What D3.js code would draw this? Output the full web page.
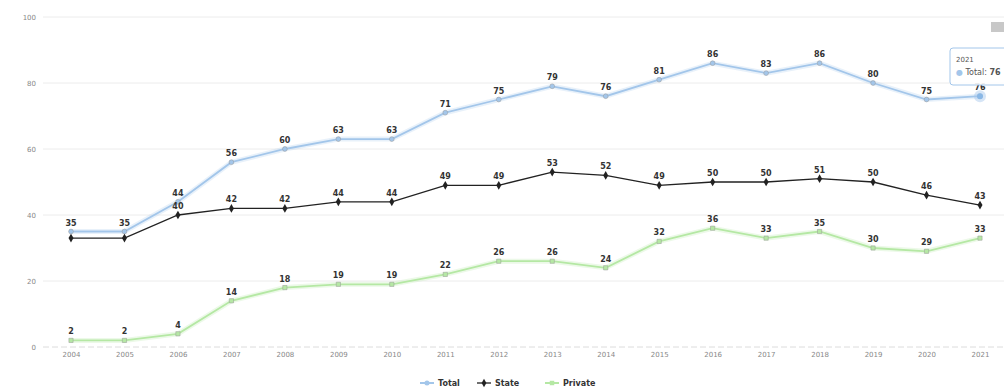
<!DOCTYPE html>
<html><head><meta charset="utf-8">
<script src="https://cdn.jsdelivr.net/npm/d3@7"></script>
<style>
html,body{margin:0;padding:0;background:#fff;overflow:hidden}
svg{display:block;font-family:"DejaVu Sans",Verdana,sans-serif}
</style></head>
<body><svg id="c" width="1004" height="390"></svg>
<script>
const years = ["2004","2005","2006","2007","2008","2009","2010","2011","2012","2013","2014","2015","2016","2017","2018","2019","2020","2021"];
const total = [35,35,44,56,60,63,63,71,75,79,76,81,86,83,86,80,75,76];
const state = [33,33,40,42,42,44,44,49,49,53,52,49,50,50,51,50,46,43];
const privateVals = [2,2,4,14,18,19,19,22,26,26,24,32,36,33,35,30,29,33];
const yTicks = [0,20,40,60,80,100];
const seriesNames = ["Total","State","Private"];
const colors = ["#a3c6ea","#222222","#b5e8a4"];

const svg = d3.select("#c");
const x = d3.scalePoint().domain(years).range([71,980]);
const y = d3.scaleLinear().domain([0,100]).range([347,17]);

// gridlines
svg.append("g").selectAll("line").data(yTicks.filter(d=>d>0)).join("line")
  .attr("x1",43).attr("x2",1004).attr("y1",d=>y(d)).attr("y2",d=>y(d))
  .attr("stroke","#ececec").attr("stroke-width",1);
// x axis line
svg.append("line").attr("x1",43).attr("x2",1004).attr("y1",y(0)).attr("y2",y(0))
  .attr("stroke","#dcdcdc").attr("stroke-dasharray","6,3");

// y labels
const yAxis = d3.axisLeft(y).tickValues(yTicks).tickSize(0).tickPadding(0);
const ya = svg.append("g").attr("transform","translate(36,0)").call(yAxis);
ya.select(".domain").remove();
ya.selectAll("text").attr("fill","#888").attr("font-size",7).attr("font-family","DejaVu Sans, sans-serif");

// x labels
const xAxis = d3.axisBottom(x).tickSize(0).tickPadding(0);
const xa = svg.append("g").attr("transform","translate(0,352)").call(xAxis);
xa.select(".domain").remove();
xa.selectAll("text").attr("fill","#888").attr("font-size",7).attr("font-family","DejaVu Sans, sans-serif");

const data = [total,state,privateVals];
const line = d3.line().x((d,i)=>x(years[i])).y(d=>y(d));
const symbols = [d3.symbolCircle,d3.symbolDiamond,d3.symbolSquare];

data.forEach((vals,si)=>{
  const g = svg.append("g");
  if(si!==1){
    g.append("path").datum(vals).attr("d",line).attr("fill","none")
      .attr("stroke",colors[si]).attr("stroke-width",5).attr("stroke-opacity",0.25);
  }
  g.append("path").datum(vals).attr("d",line).attr("fill","none")
    .attr("stroke",colors[si]).attr("stroke-width",si===1?1.3:1.8);
  g.selectAll("path.m").data(vals).join("path").attr("class","m")
    .attr("transform",(d,i)=>`translate(${x(years[i])},${y(d)})`)
    .attr("d",d3.symbol().type(symbols[si]).size(si===1?22:18))
    .attr("fill",si===1?"#222":colors[si]).attr("stroke",si===1?"none":"#999").attr("stroke-width",0.5);
});

// hover halo on last Total point
svg.append("circle").attr("cx",x("2021")).attr("cy",y(76)).attr("r",6)
  .attr("fill",colors[0]).attr("fill-opacity",0.45);
svg.append("circle").attr("cx",x("2021")).attr("cy",y(76)).attr("r",3)
  .attr("fill","#8ab8e6");

// data labels
data.forEach((vals,si)=>{
  svg.append("g").selectAll("text").data(vals).join("text")
    .attr("x",(d,i)=>x(years[i])).attr("y",d=>y(d)-6)
    .attr("text-anchor","middle").attr("font-size",8).attr("font-weight","bold")
    .attr("fill","#333")
    .text((d,i)=> (si===1 && (i===0||i===1)) ? "" : d);
});

// tooltip
const tt = svg.append("g").attr("transform","translate(950,48)");
tt.append("rect").attr("width",70).attr("height",37).attr("rx",3)
  .attr("fill","#fff").attr("fill-opacity",0.9).attr("stroke",colors[0]).attr("stroke-width",1);
tt.append("text").attr("x",6).attr("y",14).attr("font-size",7).attr("fill","#555").text("2021");
tt.append("text").attr("x",6).attr("y",27).attr("font-size",8).attr("fill","#555")
  .html(`<tspan fill="${colors[0]}">●</tspan> Total: <tspan font-weight="bold">76</tspan>`);

// export button
svg.append("rect").attr("x",991).attr("y",22).attr("width",13).attr("height",10).attr("fill","#c8c8c8");

// legend
const lg = svg.append("g").attr("transform","translate(0,383)");
const legendX = [420,477,545];
seriesNames.forEach((n,si)=>{
  const gx = legendX[si];
  lg.append("line").attr("x1",gx).attr("x2",gx+14).attr("y1",0).attr("y2",0)
    .attr("stroke",colors[si]).attr("stroke-width",si===1?1.3:2);
  lg.append("path").attr("transform",`translate(${gx+7},0)`)
    .attr("d",d3.symbol().type(symbols[si]).size(20)).attr("fill",si===1?"#222":colors[si]);
  lg.append("text").attr("x",gx+18).attr("y",3).attr("font-size",8).attr("font-weight","bold")
    .attr("fill","#333").text(n);
});
</script></body></html>
